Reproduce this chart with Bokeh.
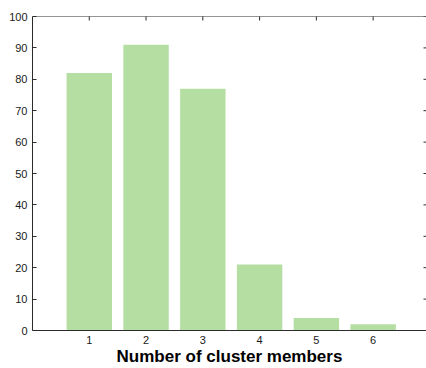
import math
from bokeh.plotting import figure
from bokeh.models import Range1d, LinearAxis, FixedTicker, Span
from bokeh.embed import file_html
from bokeh.resources import INLINE

# Cluster size histogram
cluster_sizes = [1, 2, 3, 4, 5, 6]
counts = [82, 91, 77, 21, 4, 2]
y_ticks = [0, 10, 20, 30, 40, 50, 60, 70, 80, 90, 100]

AX = "#2b2b2b"
FONT = "Liberation Sans"
X_END = 6.94
Y_END = 100

p = figure(width=426, height=368, output_backend="svg", toolbar_location=None,
           x_range=Range1d(0, X_END), y_range=Range1d(0, Y_END),
           min_border_left=32, min_border_right=0, min_border_top=16,
           min_border_bottom=38, x_axis_location=None, y_axis_location=None)
p.outline_line_color = None
p.xgrid.visible = False
p.ygrid.visible = False
p.background_fill_color = "white"
p.border_fill_color = "white"

p.vbar(x=cluster_sizes, top=counts, width=0.8, bottom=0,
       fill_color="#b5dea3", line_color=None)

def style(ax):
    ax.axis_line_color = AX
    ax.major_tick_line_color = AX
    ax.minor_tick_line_color = None
    ax.major_tick_out = 0
    ax.major_tick_in = 4
    ax.major_label_text_font = FONT
    ax.major_label_text_color = "#1a1a1a"
    ax.major_label_text_font_size = "11px"

bottom = LinearAxis(ticker=FixedTicker(ticks=cluster_sizes))
style(bottom)
bottom.major_tick_in = 0
bottom.major_label_standoff = 5
bottom.axis_label = "Number of cluster members"
bottom.axis_label_text_font = FONT
bottom.axis_label_text_font_size = "17px"
bottom.axis_label_text_font_style = "bold"
bottom.axis_label_text_color = "black"
bottom.axis_label_standoff = 0
p.add_layout(bottom, "below")

left = LinearAxis(ticker=FixedTicker(ticks=y_ticks))
style(left)
left.major_label_standoff = 5
p.add_layout(left, "left")

# box line along the top
p.add_layout(Span(location=Y_END, dimension="width", line_color=AX, line_width=1))

# inward tick marks on the top and right edges (clipped to the frame)
p.scatter(x=cluster_sizes, y=[Y_END] * len(cluster_sizes), marker="dash",
          angle=math.pi / 2, size=8, line_color=AX, line_width=1)
p.scatter(x=[X_END] * len(y_ticks), y=y_ticks, marker="dash",
          size=6, line_color=AX, line_width=1)

open("out.html", "w").write(file_html(p, INLINE))
